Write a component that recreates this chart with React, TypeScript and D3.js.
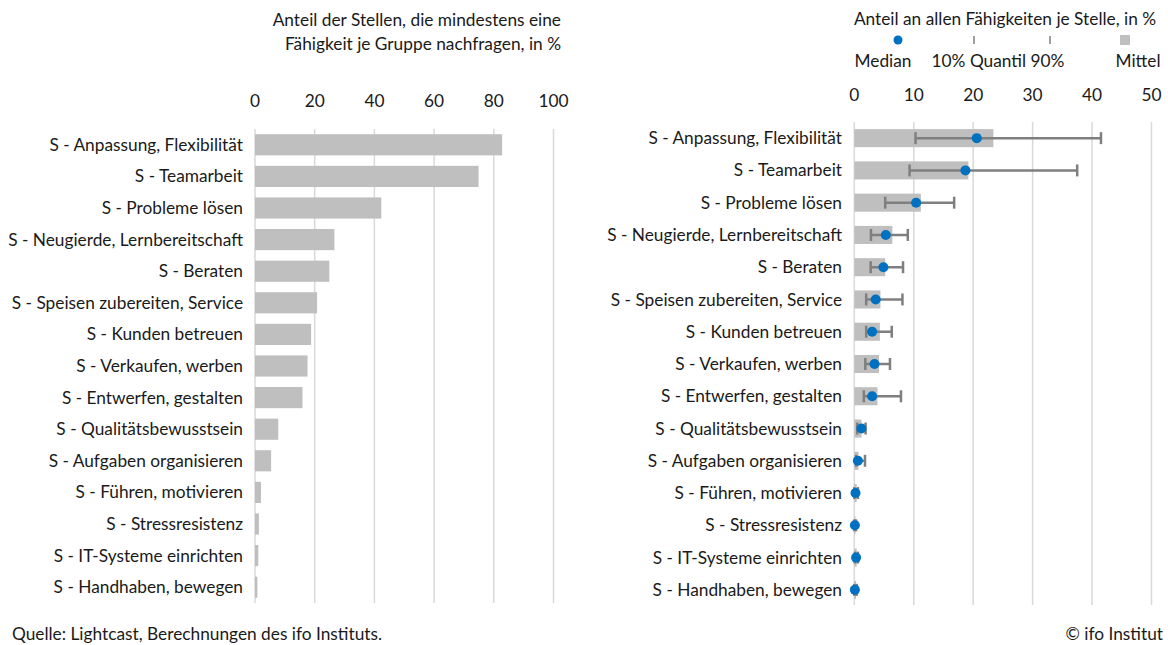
import React from "react";
import * as d3 from "d3";

const categories = [
  "S - Anpassung, Flexibilität",
  "S - Teamarbeit",
  "S - Probleme lösen",
  "S - Neugierde, Lernbereitschaft",
  "S - Beraten",
  "S - Speisen zubereiten, Service",
  "S - Kunden betreuen",
  "S - Verkaufen, werben",
  "S - Entwerfen, gestalten",
  "S - Qualitätsbewusstsein",
  "S - Aufgaben organisieren",
  "S - Führen, motivieren",
  "S - Stressresistenz",
  "S - IT-Systeme einrichten",
  "S - Handhaben, bewegen",
];

const shareAtLeastOne = [82.8, 74.9, 42.3, 26.6, 24.9, 20.8, 18.8, 17.6, 15.9, 7.8, 5.4, 2.0, 1.3, 1.1, 0.8];

const meanShare = [23.4, 19.2, 11.2, 6.4, 5.2, 4.4, 4.3, 4.15, 3.9, 1.2, 0.7, 0.4, 0.2, 0.4, 0.3];
const medianShare = [20.6, 18.7, 10.4, 5.3, 4.9, 3.6, 3.0, 3.4, 3.0, 1.2, 0.6, 0.2, 0.1, 0.3, 0.1];
const q10Share = [10.3, 9.3, 5.2, 2.8, 2.75, 2.0, 2.0, 1.85, 1.6, 0.5, 0.3, 0.0, 0.0, 0.1, 0.0];
const q90Share = [41.5, 37.5, 16.8, 9.0, 8.2, 8.1, 6.3, 6.0, 7.85, 1.9, 1.8, 0.6, 0.3, 0.6, 0.4];

const leftTicks = [0, 20, 40, 60, 80, 100];
const rightTicks = [0, 10, 20, 30, 40, 50];

const FONT = "Lato, 'Open Sans', sans-serif";
const TEXT = "#1a1a1a";
const GRID = "#d9d9d9";
const BAR = "#bfbfbf";
const WHISKER = "#7f7f7f";
const BLUE = "#0070c0";

export default function App() {
  const W = 1168;
  const H = 645;

  const xL = d3.scaleLinear().domain([0, 100]).range([255, 553.5]);
  const yL = d3.scaleBand<string>().domain(categories).range([129, 603]).paddingInner(0.33).paddingOuter(0.165);

  const xR = d3.scaleLinear().domain([0, 50]).range([854.3, 1151.5]);
  const yR = d3.scaleBand<string>().domain(categories).range([122, 606]).paddingInner(0.44).paddingOuter(0.22);

  const fs = 17.3;

  return (
    <svg width={W} height={H} style={{ position: "absolute", left: 0, top: 0, background: "#fff" }} fontFamily={FONT}>
      <rect x={0} y={0} width={W} height={H} fill="#fff" />
      {/* Left titles */}
      <text x={561} y={26} textAnchor="end" fontSize={fs} fill={TEXT}>Anteil der Stellen, die mindestens eine</text>
      <text x={561} y={50} textAnchor="end" fontSize={fs} fill={TEXT}>Fähigkeit je Gruppe nachfragen, in %</text>

      {/* Left grid + ticks */}
      {leftTicks.map((t) => (
        <g key={"lt" + t}>
          <line x1={xL(t)} x2={xL(t)} y1={129} y2={603} stroke={GRID} strokeWidth={1.5} />
          <text x={xL(t)} y={107} textAnchor="middle" fontSize={fs} fill={TEXT}>{t}</text>
        </g>
      ))}
      {categories.map((c, i) => (
        <g key={"lb" + c}>
          <rect x={xL(0)} y={yL(c)!} width={xL(shareAtLeastOne[i]) - xL(0)} height={yL.bandwidth()} fill={BAR} />
          <text x={243} y={yL(c)! + yL.bandwidth() / 2} dy="0.35em" textAnchor="end" fontSize={fs} fill={TEXT}>{c}</text>
        </g>
      ))}

      {/* Right title + legend */}
      <text x={1005} y={25} textAnchor="middle" fontSize={fs} fill={TEXT}>Anteil an allen Fähigkeiten je Stelle, in %</text>
      <circle cx={898} cy={40} r={4.5} fill={BLUE} />
      <line x1={974} x2={974} y1={36} y2={44} stroke={WHISKER} strokeWidth={1.5} />
      <line x1={1050} x2={1050} y1={36} y2={44} stroke={WHISKER} strokeWidth={1.5} />
      <rect x={1120} y={35} width={10} height={10} fill={BAR} />
      <text x={883} y={67} textAnchor="middle" fontSize={fs} fill={TEXT}>Median</text>
      <text x={998} y={67} textAnchor="middle" fontSize={fs} fill={TEXT}>10% Quantil 90%</text>
      <text x={1138} y={67} textAnchor="middle" fontSize={fs} fill={TEXT}>Mittel</text>

      {rightTicks.map((t) => (
        <g key={"rt" + t}>
          <line x1={xR(t)} x2={xR(t)} y1={122} y2={605} stroke={GRID} strokeWidth={1.5} />
          <text x={xR(t)} y={101} textAnchor="middle" fontSize={fs} fill={TEXT}>{t}</text>
        </g>
      ))}
      {categories.map((c, i) => {
        const cy = yR(c)! + yR.bandwidth() / 2;
        return (
          <g key={"rb" + c}>
            <rect x={xR(0)} y={yR(c)!} width={xR(meanShare[i]) - xR(0)} height={yR.bandwidth()} fill={BAR} />
            <line x1={xR(q10Share[i])} x2={xR(q90Share[i])} y1={cy} y2={cy} stroke={WHISKER} strokeWidth={2.5} />
            <line x1={xR(q10Share[i])} x2={xR(q10Share[i])} y1={cy - 6} y2={cy + 6} stroke={WHISKER} strokeWidth={2.5} />
            <line x1={xR(q90Share[i])} x2={xR(q90Share[i])} y1={cy - 6} y2={cy + 6} stroke={WHISKER} strokeWidth={2.5} />
            <circle cx={xR(medianShare[i])} cy={cy} r={5} fill={BLUE} />
            <text x={842} y={cy} dy="0.35em" textAnchor="end" fontSize={fs} fill={TEXT}>{c}</text>
          </g>
        );
      })}

      {/* Footer */}
      <text x={12} y={640} fontSize={fs} fill={TEXT}>Quelle: Lightcast, Berechnungen des ifo Instituts.</text>
      <text x={1163} y={640} textAnchor="end" fontSize={fs} fill={TEXT}>© ifo Institut</text>
    </svg>
  );
}
